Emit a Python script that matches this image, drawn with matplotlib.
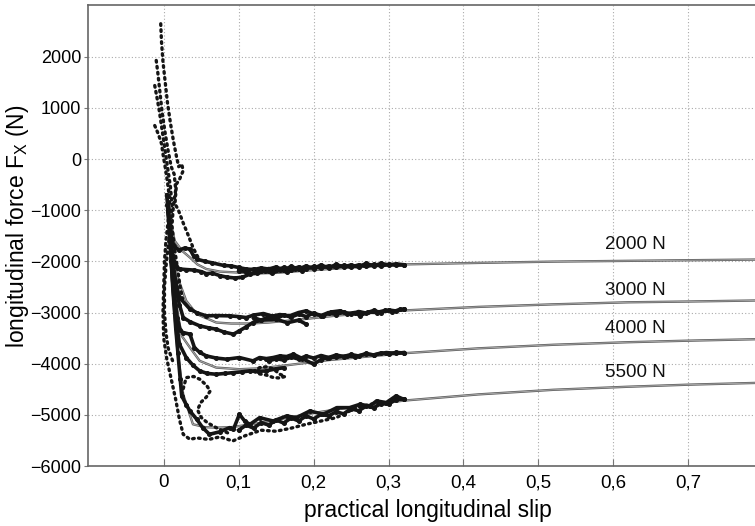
import matplotlib
matplotlib.use("Agg")
import matplotlib.pyplot as plt
import matplotlib.transforms as mtrans

plt.rcParams['font.family'] = ['Liberation Sans', 'DejaVu Sans']
plt.rcParams['mathtext.fontset'] = 'custom'
plt.rcParams['mathtext.rm'] = 'Liberation Sans'

# ---------------- data ----------------
loads = ["2000 N", "3000 N", "4000 N", "5500 N"]
label_x = [0.589, 0.589, 0.589, 0.589]
label_y = [-1680, -2560, -3320, -4170]

# model (fitted) curves
m2000_x = [0.004, 0.008, 0.0147, 0.025, 0.035, 0.045, 0.057, 0.075, 0.101, 0.124, 0.15, 0.19, 0.24, 0.32, 0.42, 0.52, 0.62, 0.70, 0.789]
m2000_y = [-700, -1150, -1600, -1800, -1925, -2060, -2150, -2200, -2220, -2237, -2225, -2180, -2130, -2060, -2030, -2005, -1990, -1978, -1965]
m3000_x = [0.004, 0.008, 0.012, 0.017, 0.03, 0.044, 0.07, 0.09, 0.115, 0.14, 0.18, 0.23, 0.32, 0.42, 0.52, 0.62, 0.70, 0.789]
m3000_y = [-700, -1300, -1800, -2250, -2770, -3030, -3195, -3215, -3215, -3195, -3140, -3060, -2960, -2890, -2840, -2800, -2785, -2765]
m4000_x = [0.004, 0.008, 0.013, 0.018, 0.024, 0.035, 0.048, 0.07, 0.101, 0.13, 0.17, 0.22, 0.32, 0.42, 0.52, 0.62, 0.70, 0.789]
m4000_y = [-700, -1500, -2300, -2950, -3456, -3685, -3945, -4076, -4108, -4090, -4020, -3930, -3796, -3700, -3630, -3580, -3550, -3522]
m5500_x = [0.004, 0.008, 0.013, 0.018, 0.026, 0.039, 0.055, 0.07, 0.09, 0.12, 0.16, 0.21, 0.26, 0.32, 0.42, 0.52, 0.62, 0.70, 0.789]
m5500_y = [-700, -1700, -2800, -3700, -4600, -5184, -5240, -5250, -5240, -5180, -5070, -4940, -4830, -4722, -4600, -4510, -4450, -4410, -4376]

# measured: thick traces (upper / lower branches)
t2000a_x = [0.004, 0.006, 0.008, 0.010, 0.014, 0.02, 0.028, 0.035, 0.04, 0.045, 0.055, 0.065, 0.08, 0.09, 0.10, 0.11, 0.12, 0.13, 0.14, 0.15, 0.16, 0.17, 0.18, 0.19, 0.20, 0.21, 0.22, 0.23, 0.24, 0.25, 0.26, 0.27, 0.28, 0.29, 0.30, 0.31, 0.32]
t2000a_y = [-700, -1000, -1300, -1550, -1700, -1780, -1740, -1760, -1900, -1960, -2000, -2030, -2080, -2090, -2120, -2150, -2160, -2130, -2150, -2110, -2170, -2100, -2150, -2090, -2140, -2070, -2130, -2060, -2110, -2070, -2110, -2040, -2090, -2040, -2070, -2050, -2065]
t2000b_x = [0.006, 0.009, 0.012, 0.016, 0.022, 0.03, 0.04, 0.05, 0.057, 0.065, 0.075, 0.085, 0.095, 0.105, 0.115, 0.125, 0.135, 0.145, 0.155, 0.165, 0.175, 0.185]
t2000b_y = [-1000, -1500, -1900, -2100, -2150, -2160, -2170, -2200, -2240, -2230, -2280, -2310, -2325, -2310, -2250, -2230, -2190, -2230, -2170, -2210, -2150, -2180]
t2000c_x = [0.10, 0.11, 0.12, 0.13, 0.14, 0.15, 0.16, 0.17, 0.18, 0.19, 0.20, 0.21, 0.22, 0.23, 0.24, 0.25, 0.26, 0.27, 0.28, 0.29, 0.30, 0.31, 0.32]
t2000c_y = [-2180, -2200, -2150, -2190, -2140, -2170, -2120, -2160, -2110, -2150, -2100, -2130, -2090, -2120, -2080, -2110, -2070, -2100, -2060, -2090, -2060, -2075, -2070]

t3000a_x = [0.005, 0.008, 0.012, 0.016, 0.021, 0.035, 0.045, 0.057, 0.07, 0.088, 0.10, 0.11, 0.12, 0.133, 0.145, 0.155, 0.168, 0.18, 0.19, 0.20, 0.213, 0.223, 0.235, 0.245, 0.255, 0.262, 0.272, 0.284, 0.295, 0.305, 0.315, 0.32]
t3000a_y = [-900, -1500, -2000, -2400, -2706, -2934, -3010, -3065, -3060, -3065, -3080, -3098, -3050, -3020, -3070, -3040, -3065, -3000, -2967, -3030, -3065, -2990, -2967, -3020, -3000, -3065, -2990, -3000, -2960, -2990, -2940, -2934]
t3000b_x = [0.008, 0.012, 0.016, 0.021, 0.026, 0.035, 0.048, 0.06, 0.07, 0.08, 0.093, 0.101, 0.11, 0.119, 0.13, 0.15, 0.165, 0.18, 0.19]
t3000b_y = [-1400, -2000, -2500, -2850, -3098, -3180, -3260, -3300, -3325, -3380, -3423, -3358, -3280, -3196, -3150, -3130, -3200, -3150, -3227]
t3000c_x = [0.12, 0.13, 0.14, 0.15, 0.16, 0.17, 0.18, 0.19, 0.20, 0.21, 0.22, 0.23, 0.24, 0.25, 0.26, 0.27, 0.28, 0.29, 0.30, 0.31, 0.32]
t3000c_y = [-3100, -3150, -3080, -3120, -3050, -3090, -3030, -3080, -3010, -3060, -3000, -3040, -2990, -3030, -2980, -3010, -2960, -3000, -2950, -2970, -2940]

t4000a_x = [0.006, 0.010, 0.014, 0.018, 0.022, 0.026, 0.035, 0.041, 0.048, 0.057, 0.07, 0.084, 0.101, 0.119, 0.128, 0.137, 0.146, 0.155, 0.164, 0.173, 0.185, 0.20, 0.21, 0.218, 0.23, 0.244, 0.255, 0.27, 0.28, 0.297, 0.31, 0.32]
t4000a_y = [-1000, -1800, -2600, -3100, -3350, -3391, -3423, -3685, -3780, -3848, -3890, -3912, -3880, -3945, -3880, -3900, -3880, -3848, -3860, -3814, -3900, -4010, -3920, -3880, -3870, -3848, -3860, -3814, -3830, -3782, -3800, -3782]
t4000b_x = [0.010, 0.014, 0.018, 0.021, 0.03, 0.039, 0.048, 0.058, 0.07, 0.082, 0.093, 0.104, 0.115, 0.126, 0.137, 0.15, 0.16]
t4000b_y = [-2000, -2800, -3300, -3619, -3880, -4030, -4141, -4190, -4206, -4190, -4174, -4160, -4141, -4150, -4141, -4100, -4080]
t4000c_x = [0.14, 0.15, 0.16, 0.17, 0.18, 0.19, 0.20, 0.21, 0.22, 0.23, 0.24, 0.25, 0.26, 0.27, 0.28, 0.29, 0.30, 0.31, 0.32]
t4000c_y = [-3950, -3900, -3930, -3870, -3910, -3850, -3890, -3840, -3880, -3830, -3860, -3820, -3850, -3800, -3830, -3790, -3810, -3780, -3790]

t5500a_x = [0.008, 0.012, 0.016, 0.019, 0.022, 0.024, 0.03, 0.035, 0.044, 0.052, 0.061, 0.075, 0.088, 0.093, 0.101, 0.108, 0.115, 0.128, 0.146, 0.164, 0.177, 0.195, 0.213, 0.231, 0.248, 0.262, 0.275, 0.284, 0.297, 0.31, 0.32]
t5500a_y = [-1500, -2500, -3300, -3800, -4300, -4630, -4800, -4924, -5086, -5250, -5380, -5330, -5250, -5282, -4989, -5120, -5186, -5055, -5120, -5022, -5055, -4924, -4989, -4859, -4859, -4793, -4830, -4728, -4760, -4630, -4695]
t5500c_x = [0.10, 0.11, 0.12, 0.13, 0.14, 0.15, 0.16, 0.17, 0.18, 0.19, 0.20, 0.21, 0.22, 0.23, 0.24, 0.25, 0.26, 0.27, 0.28, 0.29, 0.30, 0.31, 0.32]
t5500c_y = [-5300, -5200, -5260, -5150, -5200, -5100, -5160, -5060, -5120, -5020, -5080, -4990, -5020, -4940, -4980, -4880, -4920, -4830, -4860, -4780, -4790, -4700, -4690]

# measured: dotted traces
d2000_x = [-0.004, -0.003, -0.001, 0.002, 0.005, 0.009, 0.013, 0.017, 0.020, 0.024, 0.026, 0.021, 0.017, 0.015, 0.019, 0.026, 0.033, 0.039, 0.045, 0.048]
d2000_y = [2643, 2300, 1900, 1500, 1100, 700, 350, 50, -150, -100, -227, -400, -487, -879, -977, -1250, -1500, -1728, -1900, -1988]
d3000_x = [-0.010, -0.008, -0.005, -0.002, 0.002, 0.006, 0.010, 0.014, 0.016, 0.013, 0.011, 0.014, 0.018, 0.022, 0.026]
d3000_y = [1926, 1700, 1300, 900, 500, 150, -150, -300, -600, -900, -1300, -1700, -2100, -2500, -2800]
d4000_x = [-0.012, -0.009, -0.006, -0.003, 0.000, 0.003, 0.006, 0.009, 0.011, 0.009, 0.006, 0.003, 0.001, 0.001, 0.003, 0.006, 0.012]
d4000_y = [1436, 1200, 950, 650, 350, 50, -250, -550, -900, -1300, -1700, -2100, -2500, -3000, -3400, -3700, -3950]
d5500_x = [-0.012, -0.007, -0.003, -0.001, 0.002, 0.005, 0.008, 0.006, 0.003, 0.001, 0.000, -0.001, 0.000, 0.004, 0.010, 0.016, 0.021, 0.026, 0.035, 0.044, 0.06, 0.075, 0.092, 0.11, 0.13, 0.15, 0.17, 0.19, 0.21, 0.23, 0.257, 0.28]
d5500_y = [654, 480, 301, 100, -162, -450, -800, -1200, -1600, -2000, -2500, -3000, -3500, -3900, -4300, -4700, -5090, -5380, -5478, -5450, -5480, -5430, -5510, -5400, -5300, -5320, -5260, -5184, -5120, -5055, -4860, -4780]
d4000loop_x = [0.12, 0.128, 0.137, 0.146, 0.155, 0.162, 0.155, 0.146, 0.137, 0.128, 0.12]
d4000loop_y = [-4150, -4076, -4060, -4100, -4206, -4250, -4280, -4270, -4223, -4200, -4150]
d5500loop_x = [0.024, 0.03, 0.04, 0.048, 0.057, 0.062, 0.057, 0.05, 0.045, 0.05, 0.058, 0.07, 0.08, 0.09]
d5500loop_y = [-4600, -4272, -4250, -4303, -4420, -4533, -4650, -4750, -4900, -5050, -5150, -5250, -5320, -5380]

# ---------------- figure ----------------
fig = plt.figure(figsize=(7.55, 5.26), dpi=100)
ax = fig.add_axes([0.1166, 0.114, 0.8834, 0.8765])

models = [(m2000_x, m2000_y), (m3000_x, m3000_y), (m4000_x, m4000_y), (m5500_x, m5500_y)]
for mx, my in models:
    ax.plot(mx, my, color='#5e5e5e', lw=1.7, zorder=3, solid_capstyle='round')
    ax.plot(mx, my, color='#b0b0b0', lw=0.6, zorder=3.1)

thick = [(t2000a_x, t2000a_y), (t2000b_x, t2000b_y), (t2000c_x, t2000c_y),
         (t3000a_x, t3000a_y), (t3000b_x, t3000b_y), (t3000c_x, t3000c_y),
         (t4000a_x, t4000a_y), (t4000b_x, t4000b_y), (t4000c_x, t4000c_y),
         (t5500a_x, t5500a_y), (t5500c_x, t5500c_y)]
for tx, ty in thick:
    ax.plot(tx, ty, color='#151515', lw=2.6, marker='o', markersize=2.6, zorder=4)

dotted = [(d2000_x, d2000_y), (d3000_x, d3000_y), (d4000_x, d4000_y), (d5500_x, d5500_y),
          (d4000loop_x, d4000loop_y), (d5500loop_x, d5500loop_y)]
for dx, dy in dotted:
    ax.plot(dx, dy, color='#151515', lw=2.4, linestyle=(0, (0.5, 1.3)), dash_capstyle='round', zorder=4)

for lx, ly, t in zip(label_x, label_y, loads):
    ax.text(lx, ly, t, fontsize=13.5, ha='left', va='center', color='#111')

ax.set_xlim(-0.101, 0.789)
ax.set_ylim(-6000, 3010)
ax.set_xticks([0, 0.1, 0.2, 0.3, 0.4, 0.5, 0.6, 0.7])
ax.set_xticklabels(['0', '0,1', '0,2', '0,3', '0,4', '0,5', '0,6', '0,7'], fontsize=13.5)
ax.set_yticks([-6000, -5000, -4000, -3000, -2000, -1000, 0, 1000, 2000])
ax.set_yticklabels(['\u22126000', '\u22125000', '\u22124000', '\u22123000', '\u22122000', '\u22121000', '0', '1000', '2000'], fontsize=13)
# the lowest label sits a little above the corner, as in the reference
lab = ax.get_yticklabels()[0]
lab.set_transform(lab.get_transform() + mtrans.ScaledTranslation(0, 7 / 100, fig.dpi_scale_trans))

ax.grid(True, linestyle=(0, (1, 2)), color='#aaaaaa', lw=0.8)
ax.set_axisbelow(True)
ax.tick_params(axis='x', direction='in', length=5, color='#777', pad=6)
ax.tick_params(axis='y', direction='out', length=3, color='#777', pad=2)
for s in ['left', 'bottom', 'top']:
    ax.spines[s].set_color('#666')
    ax.spines[s].set_linewidth(1.2)
ax.spines['right'].set_visible(False)

ax.set_xlabel('practical longitudinal slip', fontsize=16.5)
ax.xaxis.set_label_coords(0.51, -0.072)
ax.set_ylabel('longitudinal force F$_\\mathregular{X}$ (N)', fontsize=16.5)
ax.yaxis.set_label_coords(-0.086, 0.52)

fig.savefig('out.png', dpi=100)
